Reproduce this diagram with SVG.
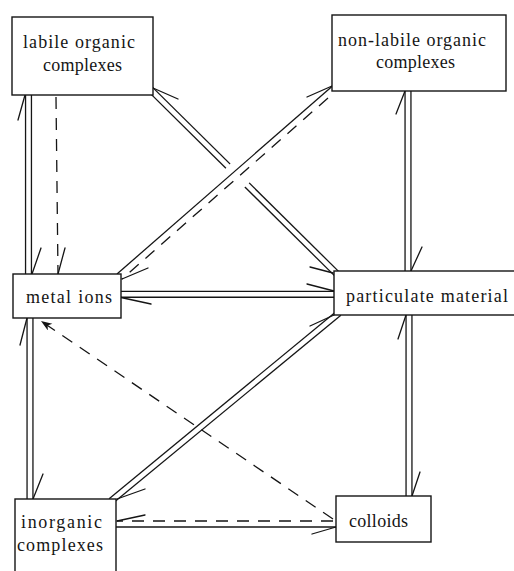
<svg xmlns="http://www.w3.org/2000/svg" width="514" height="571" viewBox="0 0 514 571">
  <style>
    .rail{fill:none;stroke:#151515;stroke-width:7.2}
    .hollow{fill:none;stroke:#fff;stroke-width:4.6}
    .wire{fill:none;stroke:#151515;stroke-width:1.3}
    .dash{fill:none;stroke:#151515;stroke-width:1.3;stroke-dasharray:12 9}
    .barb{fill:none;stroke:#151515;stroke-width:1.3;stroke-linecap:round}
    .box{fill:#fff;stroke:#151515;stroke-width:1.4}
    .lbl{font-family:"Liberation Serif","Times New Roman",serif;font-size:18px;fill:#151515}
  </style>
  <defs>
    <marker id="head" markerUnits="userSpaceOnUse" markerWidth="14" markerHeight="10" refX="11" refY="4" orient="auto">
      <path d="M0,0 L11,4 L0,8 L3,4 z" fill="#151515"/>
    </marker>
  </defs>
  <rect width="514" height="571" fill="#fff"/>

  <g id="connectors">
    <!-- double-line paths: black rail with a white core -->
    <g id="double-rails">
      <path class="rail" d="M28.5,92 L28.5,277"/>
      <path class="rail" d="M30,315 L30,502"/>
      <path class="rail" d="M408,88 L408,274"/>
      <path class="rail" d="M409,312 L409,499"/>
      <path class="rail" d="M118,294.3 L337,294.3"/>
      <path class="rail" d="M148,87 L337,274"/>
      <path class="rail" d="M111,501 L339,313"/>
    </g>
    <g id="double-cores">
      <path class="hollow" d="M28.5,92 L28.5,277"/>
      <path class="hollow" d="M30,315 L30,502"/>
      <path class="hollow" d="M408,88 L408,274"/>
      <path class="hollow" d="M409,312 L409,499"/>
      <path class="hollow" d="M118,294.3 L337,294.3"/>
      <path class="hollow" d="M148,87 L337,274"/>
      <path class="hollow" d="M111,501 L339,313"/>
    </g>
    <!-- break in the labile/particulate pair where the ion lines cross -->
    <path d="M228,166.2 L247,185" fill="none" stroke="#fff" stroke-width="13"/>

    <!-- single lines -->
    <path class="wire" d="M117,274 L332.5,86"/>
    <path class="dash" d="M328,98 L122,279"/>
    <path class="dash" d="M56,97 L58,274"/>
    <path class="dash" d="M333,519 L41,321" stroke-dasharray="15 10" marker-end="url(#head)"/>
    <path class="wire" d="M116,527 L336,527"/>
    <path class="dash" d="M333,521 L117,521" stroke-dasharray="10 9"/>

    <!-- half arrowheads -->
    <g id="barbs">
      <path class="barb" d="M25,95 L18,120"/>
      <path class="barb" d="M32,274 L41,248"/>
      <path class="barb" d="M58,274 L65,248"/>
      <path class="barb" d="M27,318 L20,345"/>
      <path class="barb" d="M33,499 L43,474"/>
      <path class="barb" d="M405,91 L396,114"/>
      <path class="barb" d="M411,271 L422,247"/>
      <path class="barb" d="M406,315 L398,339"/>
      <path class="barb" d="M412,496 L420,472"/>
      <path class="barb" d="M334,291 L307,284"/>
      <path class="barb" d="M121,297.5 L151,304"/>
      <path class="barb" d="M153,88 L178,99"/>
      <path class="barb" d="M333,273 L310,267"/>
      <path class="barb" d="M334,315 L310,326"/>
      <path class="barb" d="M117,499 L145,489"/>
      <path class="barb" d="M332,86 L307,97"/>
      <path class="barb" d="M122,279 L148,268"/>
      <path class="barb" d="M336,527 L312,534"/>
      <path class="barb" d="M117,521 L145,515"/>
    </g>
  </g>

  <g id="labile">
    <rect class="box" x="12" y="17" width="141" height="78"/>
    <text class="lbl" x="23" y="48" textLength="112" lengthAdjust="spacing">labile organic</text>
    <text class="lbl" x="43" y="71" textLength="79" lengthAdjust="spacing">complexes</text>
  </g>
  <g id="nonlabile">
    <rect class="box" x="332" y="15" width="174" height="76"/>
    <text class="lbl" x="338" y="46" textLength="148" lengthAdjust="spacing">non-labile organic</text>
    <text class="lbl" x="376" y="68" textLength="79" lengthAdjust="spacing">complexes</text>
  </g>
  <g id="metal">
    <rect class="box" x="13" y="274" width="108" height="44"/>
    <text class="lbl" x="26" y="303" textLength="86" lengthAdjust="spacing">metal ions</text>
  </g>
  <g id="particulate">
    <rect class="box" x="334" y="271" width="200" height="44"/>
    <text class="lbl" x="346" y="302" textLength="162" lengthAdjust="spacing">particulate material</text>
  </g>
  <g id="inorganic">
    <rect class="box" x="15" y="499" width="101" height="90"/>
    <text class="lbl" x="21" y="528" textLength="81" lengthAdjust="spacing">inorganic</text>
    <text class="lbl" x="17" y="551" textLength="86" lengthAdjust="spacing">complexes</text>
  </g>
  <g id="colloids">
    <rect class="box" x="336" y="496" width="95" height="46"/>
    <text class="lbl" x="349" y="527" textLength="59" lengthAdjust="spacing">colloids</text>
  </g>
</svg>
